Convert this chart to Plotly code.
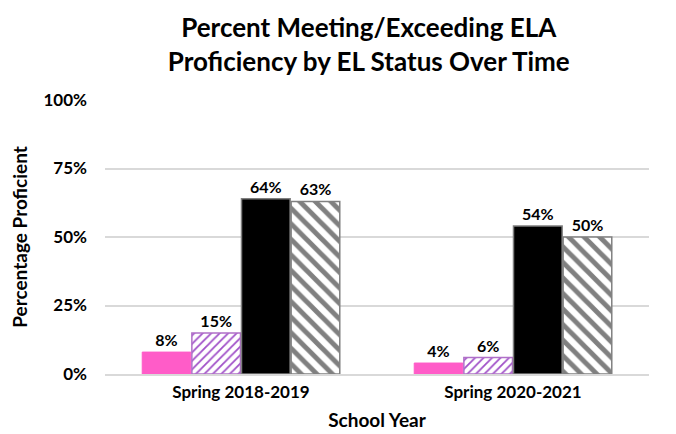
import plotly.graph_objects as go

categories = ["Spring 2018-2019", "Spring 2020-2021"]
series_names = ["EL", "EL (hatched)", "Non-EL", "Non-EL (hatched)"]
el_a = [8, 4]
el_b = [15, 6]
non_a = [64, 54]
non_b = [63, 50]
tick_vals = [0, 25, 50, 75, 100]
tick_text = ["0%", "25%", "50%", "75%", "100%"]

FONT = "Lato"
W, H = 668, 426  # page body has an 8px margin

styles = [
    dict(color="#FF5CC8", line=dict(color="#FF5CC8", width=1)),
    dict(color="white", line=dict(color="#B070C8", width=1.5),
         pattern=dict(shape="/", fgcolor="#A050C8", bgcolor="white", fgopacity=1,
                      size=6, solidity=0.3)),
    dict(color="black", line=dict(color="#7F7F7F", width=1.5)),
    dict(color="white", line=dict(color="#808080", width=1.5),
         pattern=dict(shape="\\", fgcolor="#808080", bgcolor="white", fgopacity=1,
                      size=11, solidity=0.45)),
]

fig = go.Figure()
for name, vals, st in zip(series_names, [el_a, el_b, non_a, non_b], styles):
    fig.add_trace(go.Bar(
        x=categories, y=vals, name=name,
        marker=st,
        text=[f"{v}%" for v in vals], textposition="outside",
        textfont=dict(family=FONT, size=16, color="black", weight="bold"),
        cliponaxis=False,
    ))

fig.update_layout(
    width=W, height=H,
    margin=dict(l=97, r=27, t=92, b=60, autoexpand=False),
    paper_bgcolor="white", plot_bgcolor="white",
    showlegend=False,
    barmode="group", bargap=0.27, bargroupgap=0.02,
    title=dict(
        text="Percent Meeting/Exceeding ELA<br>Proficiency by EL Status Over Time",
        x=0.54, xanchor="center", y=1 - 29 / H, yanchor="top",
        font=dict(family=FONT, size=26, color="black", weight="bold"),
    ),
    xaxis=dict(
        title=dict(text="School Year", font=dict(family=FONT, size=19, color="black", weight="bold"), standoff=13),
        tickfont=dict(family=FONT, size=17, color="black", weight="bold"),
        showline=True, linecolor="#D9D9D9", linewidth=1.5, ticks="",
        ticklabelstandoff=2, automargin=False,
    ),
    yaxis=dict(
        range=[0, 100], tickvals=tick_vals, ticktext=tick_text,
        title=dict(text="Percentage Proficient", font=dict(family=FONT, size=19, color="black", weight="bold"), standoff=10),
        tickfont=dict(family=FONT, size=17, color="black", weight="bold"),
        showgrid=True, gridcolor="#D9D9D9", gridwidth=1.5, zeroline=False,
        ticks="", ticklabelstandoff=17, automargin=False,
    ),
)

fig.write_html("out.html")
